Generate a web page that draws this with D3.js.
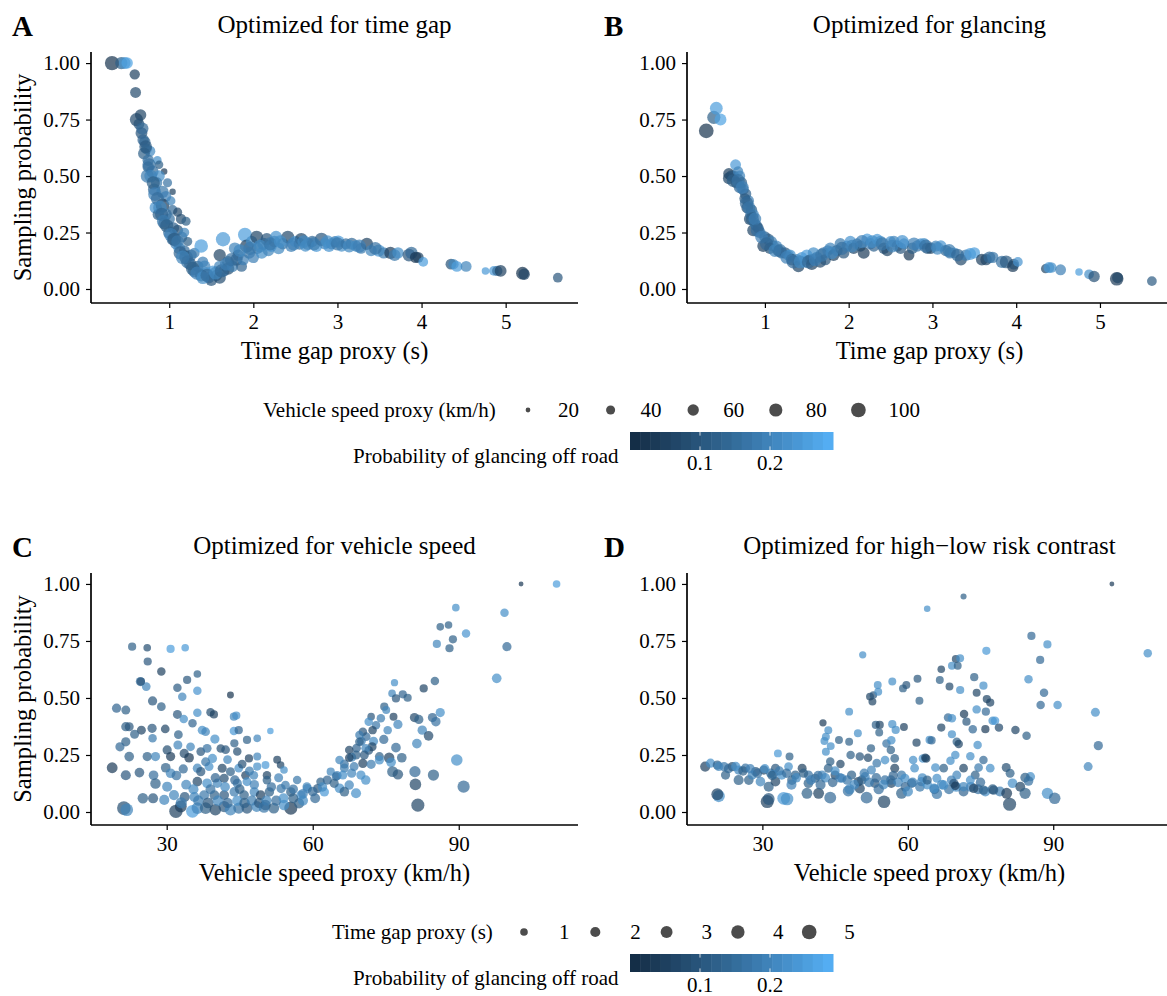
<!DOCTYPE html>
<html>
<head>
<meta charset="utf-8">
<script src="https://cdn.jsdelivr.net/npm/d3@7"></script>
<style>
body { margin: 0; background: #fff; }
text { font-family: "Liberation Serif", "Times New Roman", serif; fill: #000; }
</style>
</head>
<body>
<div id="chart"></div>
<script>
// rows: [time gap (s), sampling prob, vehicle speed (km/h), glance prob]
var timeGapPts = [
[0.32,1.00,95,0.02],[0.43,1.00,70,0.12],[0.47,1.00,65,0.22],[0.50,1.00,60,0.26],[0.59,0.95,50,0.05],
[0.60,0.87,55,0.07],[0.61,0.75,80,0.07],[0.66,0.77,60,0.06],[0.64,0.73,55,0.09],[0.67,0.69,65,0.10],
[0.69,0.66,60,0.13],[0.71,0.65,60,0.14],[0.73,0.62,55,0.17],[0.77,0.61,55,0.21],[0.70,0.60,65,0.12],
[0.75,0.57,60,0.16],[0.86,0.57,35,0.22],[0.75,0.54,60,0.13],[0.88,0.55,35,0.12],[0.94,0.52,25,0.03],
[0.74,0.50,80,0.18],[0.80,0.52,70,0.15],[0.88,0.50,60,0.22],[0.98,0.47,40,0.16],[1.04,0.43,25,0.05],
[0.82,0.44,70,0.14],[0.85,0.47,60,0.18],[0.92,0.43,70,0.17],[0.96,0.41,55,0.19],[0.84,0.36,70,0.23],
[0.92,0.37,85,0.04],[1.02,0.39,40,0.20],[0.87,0.33,60,0.12],[0.96,0.33,65,0.18],[1.04,0.35,45,0.14],
[1.10,0.34,40,0.07],[0.94,0.29,65,0.10],[1.00,0.31,60,0.16],[1.14,0.31,50,0.08],[1.20,0.30,40,0.12],
[1.00,0.25,70,0.16],[1.05,0.27,60,0.13],[1.10,0.26,55,0.09],[1.04,0.22,65,0.14],[1.15,0.23,55,0.16],
[1.18,0.25,45,0.20],[1.08,0.20,60,0.19],[1.22,0.21,40,0.12],[1.12,0.18,65,0.22],[1.18,0.17,55,0.15],
[1.20,0.14,85,0.05],[1.26,0.15,60,0.14],[1.30,0.16,50,0.18],[1.38,0.19,85,0.25],[1.25,0.11,70,0.10],
[1.34,0.10,60,0.14],[1.40,0.12,55,0.19],[1.42,0.10,65,0.20],[1.44,0.07,70,0.22],[1.30,0.08,75,0.16],
[1.38,0.06,70,0.12],[1.47,0.05,60,0.18],[1.50,0.04,65,0.10],[1.52,0.08,55,0.24],[1.56,0.06,60,0.17],
[1.60,0.05,70,0.08],[1.60,0.10,60,0.20],[1.64,0.22,95,0.24],[1.60,0.15,70,0.06],[1.65,0.08,60,0.14],
[1.70,0.12,65,0.12],[1.70,0.09,70,0.08],[1.75,0.10,60,0.18],[1.78,0.18,65,0.20],[1.80,0.13,70,0.09],
[1.82,0.15,60,0.11],[1.86,0.10,55,0.13],[1.90,0.24,90,0.25],[1.88,0.13,60,0.19],[1.92,0.19,80,0.05],
[1.95,0.16,65,0.17],[1.98,0.21,60,0.22],[2.00,0.14,60,0.19],[2.04,0.23,75,0.06],[2.05,0.18,60,0.15],
[2.10,0.16,65,0.22],[2.12,0.20,70,0.18],[2.16,0.22,70,0.10],[2.18,0.17,60,0.20],[2.21,0.19,65,0.23],
[2.25,0.21,60,0.16],[2.27,0.23,70,0.23],[2.30,0.18,65,0.21],[2.35,0.20,60,0.18],[2.41,0.23,75,0.07],
[2.45,0.19,65,0.19],[2.50,0.21,60,0.24],[2.55,0.20,65,0.16],[2.57,0.22,75,0.06],[2.62,0.19,60,0.22],
[2.65,0.20,70,0.20],[2.70,0.21,60,0.14],[2.75,0.19,65,0.24],[2.81,0.22,80,0.10],[2.85,0.20,60,0.20],
[2.90,0.19,65,0.23],[2.93,0.20,60,0.20],[2.97,0.21,55,0.17],[3.01,0.21,70,0.24],[3.05,0.19,60,0.22],
[3.10,0.20,55,0.15],[3.17,0.20,65,0.14],[3.22,0.19,60,0.21],[3.28,0.18,55,0.18],[3.35,0.20,70,0.05],
[3.40,0.17,60,0.20],[3.49,0.17,70,0.24],[3.55,0.16,60,0.18],[3.63,0.16,70,0.04],[3.68,0.15,65,0.17],
[3.72,0.16,60,0.22],[3.85,0.15,75,0.10],[3.88,0.16,70,0.14],[3.93,0.14,60,0.03],[3.96,0.14,55,0.05],
[4.02,0.12,45,0.25],[4.35,0.11,55,0.09],[4.38,0.11,50,0.20],[4.42,0.10,55,0.25],[4.53,0.10,55,0.20],
[4.76,0.08,30,0.24],[4.86,0.08,45,0.24],[4.90,0.08,50,0.15],[4.94,0.08,65,0.05],[5.20,0.07,75,0.02],
[5.22,0.065,60,0.06],[5.62,0.05,45,0.10],
[0.68,0.71,70,0.14],[0.72,0.63,75,0.11],[0.76,0.55,80,0.16],[0.78,0.50,75,0.20],[0.81,0.47,80,0.12],
[0.83,0.42,85,0.19],[0.86,0.40,80,0.15],[0.89,0.36,85,0.21],[0.91,0.33,80,0.13],[0.93,0.30,75,0.18],
[0.97,0.28,80,0.12],[1.02,0.24,85,0.19],[1.06,0.22,80,0.11],[1.10,0.21,75,0.17],[1.13,0.16,80,0.13],
[1.16,0.14,85,0.20],[1.22,0.12,80,0.16],[1.28,0.09,85,0.12],[1.33,0.07,80,0.19],[1.40,0.05,75,0.22],
[1.45,0.06,80,0.15],[1.55,0.07,75,0.21],[1.62,0.08,80,0.14],[1.68,0.11,75,0.19],[1.74,0.13,80,0.16],
[1.84,0.17,75,0.21],[1.96,0.18,80,0.18],[2.08,0.19,75,0.21],[2.20,0.20,80,0.17],[2.32,0.21,75,0.22],
[2.48,0.20,80,0.19],[2.60,0.21,75,0.21],[2.72,0.20,80,0.18],[2.88,0.21,75,0.22],[3.00,0.20,80,0.17],
[3.14,0.19,75,0.21],[3.26,0.19,80,0.19],[3.45,0.18,75,0.16]
];

var glancingPts = [
[0.30,0.70,100,0.02],[0.39,0.76,80,0.12],[0.42,0.80,75,0.25],[0.47,0.75,65,0.26],[0.65,0.55,55,0.24],
[0.57,0.51,60,0.05],[0.57,0.49,65,0.06],[0.60,0.50,60,0.08],[0.63,0.50,55,0.10],[0.68,0.52,50,0.20],
[0.70,0.50,55,0.20],[0.66,0.47,60,0.09],[0.72,0.47,60,0.12],[0.74,0.44,60,0.17],[0.70,0.45,65,0.14],
[0.77,0.42,60,0.13],[0.80,0.39,65,0.18],[0.76,0.40,55,0.11],[0.79,0.36,65,0.08],[0.84,0.35,60,0.12],
[0.86,0.33,60,0.20],[0.82,0.31,65,0.07],[0.83,0.33,55,0.15],[0.90,0.28,60,0.14],[0.86,0.26,65,0.06],
[0.88,0.29,55,0.18],[0.94,0.25,60,0.17],[0.92,0.27,55,0.10],[0.98,0.19,65,0.05],[1.00,0.23,60,0.13],
[1.04,0.22,60,0.11],[1.08,0.21,55,0.18],[1.10,0.19,60,0.16],[1.06,0.18,60,0.08],[1.16,0.17,65,0.07],
[1.14,0.19,55,0.20],[1.20,0.16,60,0.14],[1.24,0.16,60,0.10],[1.28,0.15,55,0.22],[1.30,0.15,60,0.22],
[1.32,0.13,65,0.08],[1.38,0.13,60,0.18],[1.40,0.10,65,0.06],[1.44,0.14,55,0.23],[1.48,0.12,60,0.24],
[1.50,0.15,60,0.25],[1.54,0.13,55,0.12],[1.58,0.16,60,0.22],[1.56,0.11,65,0.05],[1.62,0.14,60,0.20],
[1.66,0.12,65,0.07],[1.70,0.16,60,0.16],[1.72,0.13,60,0.10],[1.75,0.17,55,0.19],[1.78,0.18,60,0.20],
[1.82,0.15,65,0.05],[1.86,0.17,60,0.14],[1.90,0.20,60,0.18],[1.94,0.16,60,0.10],[1.98,0.19,55,0.21],
[2.02,0.21,60,0.23],[2.06,0.18,60,0.06],[2.10,0.20,55,0.17],[2.14,0.19,60,0.12],[2.18,0.16,65,0.04],
[2.22,0.22,60,0.25],[2.26,0.20,60,0.19],[2.30,0.19,60,0.13],[2.34,0.22,55,0.24],[2.38,0.21,60,0.22],
[2.42,0.18,60,0.10],[2.46,0.17,60,0.06],[2.50,0.21,55,0.23],[2.54,0.21,60,0.20],[2.58,0.19,60,0.15],
[2.62,0.18,60,0.10],[2.66,0.20,55,0.21],[2.72,0.15,55,0.03],[2.76,0.18,60,0.12],[2.82,0.19,60,0.17],
[2.86,0.20,55,0.23],[2.90,0.20,60,0.22],[2.94,0.18,60,0.10],[2.98,0.18,60,0.06],[3.04,0.19,55,0.20],
[3.10,0.19,60,0.23],[3.16,0.17,60,0.14],[3.21,0.16,60,0.17],[3.26,0.16,55,0.21],[3.34,0.13,65,0.07],
[3.40,0.15,60,0.18],[3.45,0.155,65,0.24],[3.50,0.16,60,0.25],[3.59,0.13,65,0.05],[3.64,0.13,60,0.06],
[3.68,0.14,65,0.14],[3.72,0.14,60,0.17],[3.83,0.12,70,0.16],[3.88,0.12,75,0.11],[3.96,0.10,60,0.04],
[3.97,0.11,55,0.08],[4.02,0.12,45,0.23],[4.35,0.09,40,0.06],[4.39,0.095,55,0.24],[4.42,0.095,50,0.22],
[4.53,0.085,55,0.19],[4.75,0.075,30,0.25],[4.87,0.065,45,0.22],[4.93,0.055,60,0.09],[5.20,0.045,85,0.04],
[5.21,0.05,55,0.06],[5.62,0.035,45,0.11],
[0.62,0.48,75,0.12],[0.68,0.48,80,0.16],[0.73,0.45,75,0.19],[0.78,0.38,80,0.14],[0.81,0.36,75,0.17],
[0.85,0.31,80,0.12],[0.88,0.31,75,0.19],[0.91,0.26,80,0.15],[0.96,0.23,75,0.19],[1.02,0.20,80,0.14],
[1.12,0.17,75,0.20],[1.18,0.17,80,0.16],[1.26,0.14,75,0.19],[1.34,0.12,80,0.15],[1.42,0.12,75,0.21],
[1.52,0.12,80,0.14],[1.60,0.13,75,0.19],[1.68,0.15,80,0.17],[1.80,0.16,75,0.21],[1.92,0.18,80,0.16],
[2.04,0.19,75,0.20],[2.16,0.21,80,0.19],[2.28,0.21,75,0.22],[2.40,0.20,80,0.17],[2.52,0.19,75,0.20],
[2.64,0.21,80,0.23],[2.78,0.20,75,0.19],[2.92,0.19,80,0.16],[3.06,0.18,75,0.21],[3.20,0.17,80,0.18],
[3.30,0.15,75,0.14]
];

// rows: [vehicle speed (km/h), sampling prob, time gap (s), glance prob]
var speedPts = [
[22.9,0.725,1.2,0.12],[26.0,0.72,1.0,0.08],[30.8,0.715,1.2,0.25],[33.8,0.72,1.0,0.24],[26.1,0.66,1.2,0.10],
[28.9,0.616,1.3,0.05],[24.6,0.572,1.6,0.14],[25.8,0.55,1.4,0.20],[24.7,0.572,1.2,0.10],[34.2,0.579,1.2,0.10],
[36.3,0.605,1.0,0.12],[32.2,0.545,1.3,0.11],[36.3,0.532,1.3,0.23],[33.2,0.505,1.3,0.20],[27.1,0.487,1.6,0.10],
[28.9,0.462,1.4,0.12],[43.1,0.513,0.8,0.02],[19.7,0.455,1.6,0.13],[21.6,0.447,1.5,0.12],[32.2,0.428,1.5,0.10],
[36.3,0.435,1.3,0.22],[39.0,0.437,1.3,0.08],[39.7,0.428,1.2,0.05],[43.8,0.418,1.2,0.20],[44.3,0.423,1.2,0.22],
[21.6,0.374,1.6,0.12],[22.3,0.374,1.5,0.10],[24.8,0.359,1.5,0.06],[27.0,0.367,1.6,0.10],[29.7,0.364,1.4,0.06],
[27.1,0.323,1.3,0.18],[23.4,0.341,1.5,0.12],[32.4,0.339,1.4,0.12],[33.5,0.408,1.3,0.22],[35.3,0.389,1.3,0.13],
[37.3,0.359,1.5,0.22],[38.0,0.352,1.4,0.20],[39.9,0.320,1.6,0.22],[43.8,0.355,1.3,0.24],[44.8,0.359,1.2,0.13],
[46.5,0.316,1.2,0.12],[48.6,0.323,1.0,0.20],[51.3,0.355,0.7,0.25],[21.6,0.308,1.6,0.12],[20.4,0.286,1.6,0.14],
[22.3,0.243,1.8,0.12],[26.0,0.243,1.6,0.12],[27.7,0.243,1.6,0.20],[30.1,0.272,1.6,0.08],[30.8,0.243,1.6,0.04],
[32.3,0.294,1.5,0.20],[33.6,0.257,1.6,0.07],[34.6,0.238,1.8,0.03],[34.9,0.286,1.4,0.20],[37.0,0.265,1.4,0.10],
[38.3,0.279,1.5,0.16],[39.4,0.235,1.6,0.22],[41.1,0.278,1.3,0.08],[42.1,0.273,1.4,0.10],[43.9,0.301,1.2,0.12],
[44.5,0.265,1.3,0.08],[46.9,0.235,1.2,0.05],[48.6,0.243,1.1,0.20],[52.7,0.229,1.1,0.05],[53.4,0.206,1.0,0.06],
[54.1,0.184,1.0,0.22],[18.8,0.194,2.4,0.04],[21.6,0.161,2.0,0.10],[24.4,0.173,1.8,0.10],[27.3,0.161,1.8,0.15],
[29.8,0.194,1.8,0.12],[30.8,0.170,1.8,0.20],[33.4,0.189,1.6,0.14],[36.3,0.192,1.6,0.20],[38.7,0.199,1.5,0.22],
[37.0,0.177,1.6,0.10],[41.4,0.192,1.5,0.06],[43.1,0.177,1.5,0.12],[44.8,0.192,1.4,0.22],[46.2,0.161,1.4,0.05],
[47.9,0.161,1.4,0.20],[50.6,0.161,1.3,0.06],[48.6,0.199,1.2,0.22],[50.3,0.206,1.1,0.24],[27.7,0.125,2.2,0.12],
[30.1,0.111,2.0,0.20],[36.3,0.133,1.8,0.06],[38.3,0.126,1.8,0.22],[40.4,0.126,1.7,0.20],[41.8,0.148,1.6,0.08],
[44.5,0.126,1.6,0.17],[46.5,0.133,1.5,0.22],[50.6,0.140,1.4,0.12],[54.4,0.118,1.4,0.18],[56.8,0.140,1.3,0.17],
[58.8,0.111,1.4,0.20],[61.6,0.133,1.3,0.12],[63.7,0.177,1.2,0.20],[25.1,0.060,2.2,0.12],[27.2,0.060,2.0,0.10],
[29.5,0.053,2.0,0.20],[31.5,0.074,2.0,0.20],[33.7,0.066,2.0,0.10],[35.7,0.066,2.0,0.20],[37.7,0.074,1.9,0.17],
[39.8,0.074,1.9,0.12],[41.8,0.074,1.9,0.10],[43.9,0.088,1.8,0.18],[45.9,0.074,1.8,0.12],[48.0,0.088,1.7,0.20],
[49.3,0.074,1.8,0.05],[51.1,0.088,1.7,0.12],[53.5,0.103,1.6,0.17],[55.5,0.088,1.7,0.12],[57.6,0.074,1.7,0.22],
[58.9,0.103,1.6,0.20],[61.0,0.103,1.5,0.10],[62.4,0.088,1.6,0.24],[21.2,0.017,4.2,0.08],[21.8,0.010,3.5,0.20],
[31.9,0.003,4.0,0.05],[32.9,0.024,3.0,0.04],[35.3,0.003,3.6,0.25],[36.3,0.017,2.8,0.20],[38.0,0.017,2.8,0.12],
[40.0,0.010,2.8,0.06],[41.8,0.024,2.6,0.10],[43.1,0.010,2.8,0.20],[44.8,0.017,2.5,0.16],[46.5,0.017,2.5,0.10],
[48.5,0.024,2.4,0.20],[50.3,0.031,2.2,0.05],[52.0,0.017,2.4,0.12],[55.5,0.017,3.8,0.03],[54.1,0.031,2.2,0.22],
[57.2,0.038,2.0,0.12],
[36.5,0.05,2.2,0.18],[38.5,0.04,2.4,0.10],[40.5,0.05,2.2,0.20],[42.5,0.04,2.2,0.14],[44.5,0.05,2.1,0.22],
[46.0,0.04,2.2,0.12],[47.5,0.05,2.0,0.18],[49.0,0.04,2.1,0.10],[50.5,0.05,2.0,0.20],[52.5,0.05,2.0,0.15],
[54.0,0.06,1.9,0.22],[56.0,0.06,1.9,0.12],[58.0,0.08,1.8,0.19],[60.0,0.09,1.8,0.14],[62.0,0.11,1.7,0.21],
[63.0,0.14,1.6,0.13],[65.0,0.16,1.6,0.19],[66.5,0.21,1.5,0.16],[68.0,0.24,1.5,0.21],[69.0,0.28,1.4,0.13],
[70.0,0.31,1.4,0.19],[71.0,0.33,1.4,0.15],[72.5,0.31,1.5,0.21],[73.0,0.38,1.3,0.17],[71.5,0.27,1.4,0.10],
[68.0,0.17,1.6,0.20],[39.0,0.10,1.9,0.16],[42.0,0.11,1.8,0.21],[45.0,0.10,1.8,0.12],[48.0,0.12,1.7,0.19],
[51.5,0.11,1.7,0.15],[34.0,0.12,1.9,0.20],[32.0,0.16,1.8,0.16],[40.0,0.15,1.7,0.13],[47.0,0.18,1.5,0.18],
[53.0,0.15,1.5,0.19],[56.0,0.10,1.7,0.16],[38.0,0.22,1.5,0.17],[42.5,0.23,1.4,0.20],[45.5,0.21,1.4,0.09],
[35.5,0.10,2.0,0.21],[33.0,0.04,2.6,0.18],[44.0,0.14,1.7,0.14],[50.0,0.02,2.4,0.17],[58.0,0.05,2.0,0.21],
[60.5,0.06,1.9,0.14],
[102.8,1.0,0.4,0.03],[110.1,1.0,1.0,0.25],[89.4,0.896,1.0,0.22],[99.4,0.874,1.3,0.22],[86.2,0.812,1.0,0.12],
[87.9,0.82,1.0,0.12],[91.5,0.783,1.3,0.23],[88.8,0.757,1.2,0.12],[85.5,0.737,1.2,0.20],[88.1,0.718,1.2,0.12],
[99.9,0.725,1.6,0.14],[97.8,0.586,1.8,0.22],[76.8,0.567,0.9,0.22],[82.8,0.542,1.2,0.06],[85.1,0.574,1.3,0.12],
[76.3,0.520,1.0,0.20],[78.5,0.516,1.2,0.13],[77.1,0.498,1.2,0.10],[79.5,0.501,1.2,0.12],[74.7,0.462,1.2,0.12],
[75.1,0.447,1.1,0.20],[76.6,0.418,1.1,0.05],[80.9,0.414,1.6,0.07],[81.8,0.406,1.6,0.12],[84.6,0.414,1.6,0.13],
[86.2,0.436,1.6,0.22],[85.3,0.396,1.7,0.16],[72.0,0.418,1.0,0.10],[74.0,0.411,1.3,0.18],[71.5,0.396,1.3,0.22],
[77.5,0.384,1.6,0.20],[82.5,0.359,1.7,0.20],[83.8,0.334,1.8,0.07],[70.3,0.352,1.3,0.10],[72.3,0.359,1.3,0.06],
[75.4,0.359,1.3,0.20],[74.6,0.318,1.6,0.14],[81.4,0.300,1.8,0.20],[77.1,0.282,1.8,0.14],[69.6,0.338,1.3,0.18],
[69.6,0.308,1.4,0.12],[72.2,0.286,1.5,0.06],[70.9,0.279,1.5,0.20],[67.5,0.272,1.3,0.06],[68.9,0.250,1.5,0.12],
[70.6,0.250,1.5,0.10],[73.7,0.243,1.5,0.12],[75.7,0.238,2.2,0.05],[78.3,0.238,1.8,0.12],[65.5,0.228,1.3,0.20],
[67.5,0.238,1.3,0.05],[70.3,0.213,1.6,0.05],[72.0,0.209,1.6,0.18],[73.7,0.228,1.6,0.22],[76.1,0.218,1.8,0.22],
[68.5,0.199,1.5,0.18],[66.5,0.193,1.5,0.18],[89.6,0.228,2.8,0.22],[76.4,0.177,2.4,0.12],[77.5,0.165,2.2,0.10],
[81.0,0.177,2.6,0.14],[84.8,0.162,2.6,0.12],[81.1,0.121,2.8,0.06],[91.0,0.111,3.2,0.14],[81.6,0.030,3.8,0.06],
[64.8,0.155,1.4,0.16],[66.2,0.162,1.5,0.22],[70.9,0.140,1.7,0.22],[65.5,0.104,1.8,0.22],[67.5,0.118,1.7,0.20],
[68.9,0.082,2.0,0.22],[66.5,0.089,1.8,0.12],[64.4,0.126,1.6,0.12],[69.9,0.162,1.6,0.22]
];

var contrastPts = [
[18.2,0.199,2.0,0.05],[19.3,0.214,1.6,0.22],[20.7,0.206,1.6,0.12],[22.1,0.199,1.6,0.17],[22.4,0.162,1.6,0.12],
[23.8,0.199,1.6,0.07],[25.1,0.184,1.6,0.20],[25.1,0.140,2.0,0.12],[26.5,0.192,1.6,0.16],[27.2,0.140,1.8,0.12],
[28.6,0.177,1.6,0.10],[29.6,0.133,1.8,0.20],[30.3,0.184,1.6,0.06],[31.7,0.170,1.6,0.17],[32.7,0.192,1.5,0.10],
[34.0,0.162,1.6,0.22],[35.6,0.243,1.1,0.12],[33.2,0.257,1.1,0.24],[35.4,0.199,1.4,0.22],[36.8,0.162,1.6,0.12],
[38.2,0.192,1.5,0.05],[39.5,0.162,1.6,0.16],[40.9,0.148,1.6,0.12],[42.3,0.162,1.6,0.20],[43.6,0.192,1.5,0.12],
[42.5,0.391,0.9,0.04],[43.6,0.359,1.1,0.22],[43.1,0.330,1.1,0.22],[42.8,0.311,1.1,0.22],[44.1,0.289,1.1,0.22],
[43.1,0.264,1.1,0.22],[44.0,0.221,1.3,0.12],[45.8,0.316,1.1,0.12],[47.9,0.308,1.1,0.12],[47.9,0.440,1.1,0.22],
[49.7,0.345,1.1,0.22],[50.7,0.689,0.9,0.22],[46.1,0.210,1.3,0.06],[48.2,0.250,1.3,0.12],[50.1,0.243,1.3,0.10],
[51.8,0.238,1.3,0.07],[52.4,0.279,1.2,0.12],[52.2,0.506,1.1,0.06],[52.7,0.484,1.1,0.06],[52.9,0.513,1.0,0.10],
[53.8,0.557,1.1,0.22],[53.9,0.527,1.1,0.22],[53.4,0.382,1.2,0.12],[54.2,0.382,1.2,0.06],[54.1,0.349,1.1,0.12],
[56.8,0.385,1.2,0.22],[57.5,0.360,1.2,0.22],[56.8,0.572,1.1,0.22],[59.0,0.542,1.1,0.12],[59.7,0.557,1.1,0.10],
[59.2,0.373,1.1,0.05],[62.0,0.584,1.1,0.10],[62.4,0.488,1.1,0.12],[64.0,0.891,0.7,0.22],[55.6,0.300,1.3,0.16],
[56.6,0.315,1.3,0.22],[56.5,0.272,1.3,0.12],[52.5,0.184,1.5,0.20],[53.6,0.214,1.4,0.17],[55.3,0.228,1.4,0.22],
[57.3,0.235,1.4,0.12],[57.3,0.192,1.5,0.05],[58.7,0.162,1.6,0.17],[61.8,0.304,1.2,0.06],[64.5,0.316,1.2,0.22],
[61.1,0.228,1.3,0.22],[63.1,0.235,1.3,0.22],[63.8,0.235,1.3,0.06],[61.4,0.192,1.4,0.22],[45.0,0.162,1.6,0.06],
[46.4,0.148,1.6,0.20],[48.4,0.162,1.6,0.12],[49.8,0.133,1.7,0.05],[51.2,0.155,1.6,0.20],[53.2,0.126,1.7,0.10],
[55.3,0.140,1.7,0.16],[56.6,0.126,1.7,0.06],[59.4,0.148,1.6,0.22],[60.8,0.126,1.7,0.12],[62.8,0.133,1.6,0.20],
[21.0,0.070,3.2,0.22],[20.7,0.078,3.0,0.06],[31.0,0.046,3.8,0.05],[31.3,0.057,3.0,0.10],[34.4,0.060,3.6,0.24],
[35.1,0.057,3.4,0.22],[39.2,0.082,2.4,0.12],[41.6,0.082,2.4,0.05],[44.0,0.063,3.0,0.14],[47.7,0.092,2.4,0.16],
[51.5,0.063,3.0,0.14],[55.1,0.045,3.5,0.06],[58.7,0.082,2.4,0.12],[39.5,0.126,1.8,0.12],[36.1,0.140,1.8,0.12],
[31.3,0.111,2.0,0.12],[32.7,0.133,1.8,0.06],[50.1,0.103,2.0,0.06],[32.3,0.165,1.6,0.20],[27.9,0.162,1.6,0.20],
[21,0.20,1.6,0.20],[23,0.19,1.6,0.14],[24.5,0.20,1.6,0.22],[26,0.18,1.7,0.12],[27.5,0.19,1.6,0.19],
[29,0.17,1.7,0.15],[30.5,0.19,1.6,0.22],[32,0.16,1.7,0.12],[33.5,0.18,1.6,0.18],[35,0.17,1.7,0.15],
[37,0.15,1.7,0.21],[38.5,0.17,1.6,0.12],[40,0.14,1.8,0.19],[41.5,0.16,1.7,0.16],[43,0.15,1.7,0.21],
[44.5,0.13,1.8,0.13],[46,0.15,1.7,0.19],[47.5,0.14,1.7,0.17],[49,0.12,1.8,0.21],[50.5,0.14,1.7,0.12],
[52,0.13,1.8,0.18],[53.5,0.15,1.7,0.14],[55,0.12,1.8,0.21],[56.5,0.14,1.7,0.16],[58,0.13,1.8,0.20],
[59.5,0.11,1.8,0.13],[61,0.13,1.8,0.19],[62.5,0.11,1.8,0.17],[64,0.12,1.8,0.22],[65.5,0.10,1.9,0.14],
[67,0.12,1.8,0.20],[68.5,0.10,1.9,0.16],[70,0.11,1.9,0.22],[71.5,0.09,1.9,0.13],[73,0.11,1.9,0.19],
[74.5,0.10,1.9,0.16],[76,0.09,1.9,0.21],[77.5,0.10,1.9,0.12],[79,0.09,2.0,0.18],[36,0.12,2.0,0.19],
[42,0.12,2.0,0.14],[48,0.10,2.1,0.20],[54,0.10,2.1,0.15],[60,0.09,2.1,0.21],[66,0.08,2.2,0.17],
[45,0.18,1.6,0.22],[51,0.17,1.6,0.18],[57,0.16,1.6,0.13],[63,0.15,1.6,0.21],[69,0.14,1.6,0.19],
[75,0.13,1.7,0.14],
[102.1,1.0,0.4,0.04],[71.5,0.945,0.6,0.12],[85.5,0.772,1.2,0.14],[88.8,0.735,1.2,0.22],[109.5,0.696,1.3,0.22],
[76.2,0.707,1.2,0.24],[87.3,0.667,1.2,0.14],[69.9,0.671,1.1,0.06],[70.8,0.674,1.1,0.22],[69.1,0.641,1.1,0.22],
[70.3,0.641,1.1,0.12],[66.9,0.626,1.0,0.06],[66.6,0.579,1.1,0.12],[68.6,0.550,1.1,0.07],[70.8,0.535,1.2,0.22],
[73.7,0.591,1.2,0.12],[75.6,0.554,1.2,0.22],[74.2,0.523,1.1,0.06],[76.3,0.495,1.2,0.06],[77.0,0.480,1.2,0.06],
[84.9,0.582,1.3,0.22],[88.1,0.523,1.3,0.14],[87.4,0.469,1.3,0.14],[90.9,0.469,1.3,0.22],[98.7,0.437,1.5,0.22],
[99.3,0.291,1.6,0.14],[97.2,0.199,1.5,0.20],[71.6,0.430,1.3,0.04],[72.1,0.396,1.2,0.10],[74.2,0.450,1.3,0.22],
[76.1,0.440,1.2,0.14],[68.3,0.414,1.3,0.14],[69.1,0.411,1.3,0.22],[77.5,0.400,1.3,0.22],[78.0,0.400,1.3,0.24],
[78.8,0.370,1.3,0.07],[76.0,0.363,1.2,0.04],[73.4,0.363,1.3,0.14],[66.9,0.370,1.2,0.06],[64.9,0.314,1.2,0.14],
[69.1,0.341,1.2,0.22],[82.2,0.360,1.3,0.06],[84.5,0.334,1.3,0.12],[70.1,0.308,1.3,0.12],[70.5,0.298,1.3,0.06],
[74.4,0.294,1.3,0.22],[72.9,0.245,1.3,0.22],[75.6,0.228,1.3,0.14],[69.8,0.250,1.3,0.22],[68.8,0.225,1.3,0.22],
[63.6,0.238,1.3,0.06],[65.7,0.195,1.4,0.22],[67.4,0.192,1.4,0.12],[71.5,0.192,1.4,0.06],[74.6,0.195,1.4,0.18],
[77.0,0.192,1.4,0.22],[73.9,0.162,1.5,0.12],[80.3,0.195,1.5,0.08],[81.1,0.170,1.5,0.12],[85.3,0.155,1.6,0.22],
[84.2,0.151,1.8,0.12],[84.9,0.136,1.8,0.16],[81.6,0.126,1.8,0.22],[83.2,0.111,1.9,0.06],[80.4,0.082,2.4,0.04],
[84.2,0.082,2.6,0.12],[81.0,0.034,3.8,0.06],[88.8,0.082,2.6,0.22],[90.3,0.060,2.8,0.14],[64.0,0.140,1.6,0.12],
[65.4,0.104,1.7,0.22],[67.4,0.118,1.7,0.22],[69.5,0.126,1.6,0.10],[71.5,0.111,1.7,0.20],[73.6,0.104,1.7,0.06],
[75.6,0.096,1.7,0.12],[77.7,0.096,1.7,0.10],[69.8,0.115,1.4,0.04],[66.0,0.148,1.5,0.22],[70.1,0.162,1.5,0.20],
[72.9,0.140,1.5,0.22]
];

var panelLetters = ["A", "B", "C", "D"];
var panelTitles = ["Optimized for time gap", "Optimized for glancing", "Optimized for vehicle speed", "Optimized for high\u2212low risk contrast"];
var yTicks = [0, 0.25, 0.5, 0.75, 1];
var timeGapTicks = [1, 2, 3, 4, 5];
var speedTicks = [30, 60, 90];
var speedBreaks = [20, 40, 60, 80, 100];
var timeGapBreaks = [1, 2, 3, 4, 5];
var glanceTicks = [0.1, 0.2];

var speedRange = [18.5, 110.1];
var timeGapRange = [0.3, 5.62];
var glanceRange = [0, 0.29];

var W = 1167, H = 996;
var svg = d3.select("#chart").append("svg").attr("width", W).attr("height", H)
svg.append("rect").attr("width", W).attr("height", H).attr("fill", "#fff")

var colour = d3.scaleLinear().domain(glanceRange).range(["#132B43", "#56B1F7"]).interpolate(d3.interpolateLab)

function sizeScale(range) {
    var s = d3.scaleSqrt().domain([0, range[1] - range[0]]).range([1.6, 7.7]).clamp(true)
    return v => s(Math.max(0, v - range[0]))
}
var speedSize = sizeScale(speedRange)
var tgSize = sizeScale(timeGapRange)

var cols = [[91, 578], [687, 1172]]
var rows = [[52, 303], [573, 825]]

var panels = [
    {data: timeGapPts, col: 0, row: 0, xd: [0.07, 5.86], yd: [-0.062, 1.049], ticks: timeGapTicks, xlab: "Time gap proxy (s)", r: speedSize, ylab: true},
    {data: glancingPts, col: 1, row: 0, xd: [0.07, 5.86], yd: [-0.062, 1.049], ticks: timeGapTicks, xlab: "Time gap proxy (s)", r: speedSize, ylab: false},
    {data: speedPts, col: 0, row: 1, xd: [14.45, 114.5], yd: [-0.057, 1.048], ticks: speedTicks, xlab: "Vehicle speed proxy (km/h)", r: tgSize, ylab: true},
    {data: contrastPts, col: 1, row: 1, xd: [14.45, 114.5], yd: [-0.057, 1.048], ticks: speedTicks, xlab: "Vehicle speed proxy (km/h)", r: tgSize, ylab: false}
]

panels.forEach((p, i) => {
    var x0 = cols[p.col][0], x1 = cols[p.col][1]
    var y0 = rows[p.row][0], y1 = rows[p.row][1]
    var x = d3.scaleLinear().domain(p.xd).range([x0, x1])
    var y = d3.scaleLinear().domain(p.yd).range([y1, y0])
    var g = svg.append("g")

    g.append("g").selectAll("circle").data(p.data).join("circle")
        .attr("cx", d => x(d[0])).attr("cy", d => y(d[1])).attr("r", d => p.r(d[2]))
        .attr("fill", d => colour(d[3])).attr("fill-opacity", 0.7)

    var ax = g.append("g").attr("transform", `translate(0,${y1})`)
        .call(d3.axisBottom(x).tickValues(p.ticks).tickSize(5).tickPadding(6).tickFormat(d3.format("d")))
    var ay = g.append("g").attr("transform", `translate(${x0},0)`)
        .call(d3.axisLeft(y).tickValues(yTicks).tickSize(5).tickPadding(6).tickFormat(d3.format(".2f")))
    ;[ax, ay].forEach(a => {
        a.select(".domain").attr("stroke", "#000").attr("stroke-width", 1.7)
        a.selectAll(".tick line").attr("stroke", "#000").attr("stroke-width", 1.2)
        a.selectAll(".tick text").attr("fill", "#000").style("font-family", '"Liberation Serif", serif').style("font-size", "21px")
    })
    ax.select(".domain").attr("d", `M${x0},0H${x1}`)
    ay.select(".domain").attr("d", `M0,${y0}V${y1}`)

    g.append("text").attr("x", (x0 + x1) / 2).attr("y", y0 - 19).attr("text-anchor", "middle")
        .style("font-size", "25px").text(panelTitles[i])
    g.append("text").attr("x", p.col == 0 ? 12 : 604).attr("y", y0 - 16)
        .style("font-size", "29px").style("font-weight", "bold").text(panelLetters[i])
    g.append("text").attr("x", (x0 + x1) / 2).attr("y", y1 + 56).attr("text-anchor", "middle")
        .style("font-size", "24.5px").text(p.xlab)
    if (p.ylab) {
        g.append("text").attr("transform", `translate(31,${(y0 + y1) / 2}) rotate(-90)`).attr("text-anchor", "middle")
            .style("font-size", "24.5px").text("Sampling probability")
    }
})

// legends
function legend(top, title, titleX, breaks, rfn, dotX, step, labOff) {
    var g = svg.append("g")
    g.append("text").attr("x", titleX).attr("y", top + 7).style("font-size", "21px").text(title)
    breaks.forEach((b, i) => {
        var cx = dotX + i * step
        g.append("circle").attr("cx", cx).attr("cy", top).attr("r", rfn(b)).attr("fill", "#000").attr("fill-opacity", 0.7)
        g.append("text").attr("x", cx + labOff).attr("y", top + 7).style("font-size", "21px").text(b)
    })

    var barTop = top + 22, barH = 18
    var cx = d3.scaleLinear().domain(glanceRange).range([630, 833])
    var nbin = 20
    var bins = d3.range(nbin).map(k => glanceRange[0] + (glanceRange[1] - glanceRange[0]) * k / nbin)
    var bw = (glanceRange[1] - glanceRange[0]) / nbin
    g.append("g").selectAll("rect").data(bins).join("rect")
        .attr("x", d => cx(d)).attr("width", d => cx(d + bw) - cx(d) + 0.5)
        .attr("y", barTop).attr("height", barH)
        .attr("fill", d => colour(d + bw / 2))
    glanceTicks.forEach(t => {
        g.append("line").attr("x1", cx(t)).attr("x2", cx(t)).attr("y1", barTop).attr("y2", barTop + 3.6)
            .attr("stroke", "#fff").attr("stroke-opacity", 0.8)
        g.append("line").attr("x1", cx(t)).attr("x2", cx(t)).attr("y1", barTop + barH - 3.6).attr("y2", barTop + barH)
            .attr("stroke", "#fff").attr("stroke-opacity", 0.8)
        g.append("text").attr("x", cx(t)).attr("y", barTop + barH + 20).attr("text-anchor", "middle")
            .style("font-size", "21px").text(t)
    })
    g.append("text").attr("x", 353).attr("y", barTop + 31).style("font-size", "21px").text("Probability of glancing off road")
}

legend(410, "Vehicle speed proxy (km/h)", 263, speedBreaks, speedSize, 528, 82.6, 30)
legend(932, "Time gap proxy (s)", 332, timeGapBreaks, tgSize, 524, 71.3, 35)
</script>
</body>
</html>
